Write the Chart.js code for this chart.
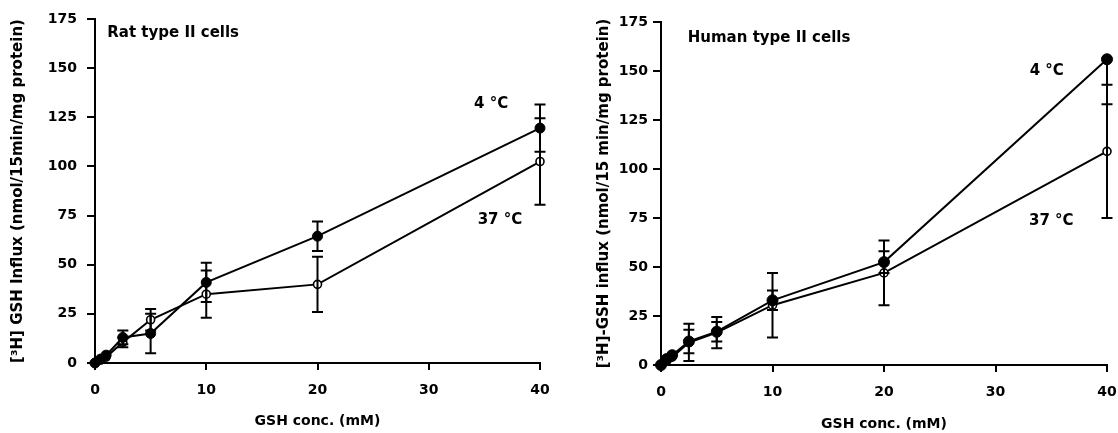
<!DOCTYPE html>
<html>
<head>
<meta charset="utf-8">
<script src="https://cdn.jsdelivr.net/npm/chart.js@4/dist/chart.umd.min.js"></script>
<style>
  html, body { margin: 0; padding: 0; background: #fff; }
  body { width: 1118px; height: 433px; position: relative; overflow: hidden; }
  .panel { position: absolute; top: 0; height: 433px; }
  #p1 { left: 0; width: 560px; }
  #p2 { left: 580px; width: 538px; }
</style>
</head>
<body>
<div class="panel" id="p1"><canvas id="c1"></canvas></div>
<div class="panel" id="p2"><canvas id="c2"></canvas></div>
<script>
// ---- data ----
const conc = [0, 0.5, 1, 2.5, 5, 10, 20, 40];           // GSH conc. (mM)
const xTicks = [0, 10, 20, 30, 40];
const yTicks = [0, 25, 50, 75, 100, 125, 150, 175];

const rat4      = [0, 2, 4, 13, 15, 41, 64.5, 119.5];
const rat4Err   = [0, 0, 0, 3.5, 10, 10, 7.5, 12];
const rat37     = [0, 1.5, 3, 10.5, 22, 35, 40, 102.5];
const rat37Err  = [0, 0, 0, 2.5, 5.5, 12, 14, 22];

const hum4      = [0, 3, 5, 12, 17, 33, 52.5, 156];
const hum4Err   = [0, 0, 0, 6, 5, 5, 5.5, 23];   // lower error
const hum4ErrUp = [0, 0, 0, 6, 5, 5, 5.5, 0];    // upper error (none drawn at 40 mM)
const hum37     = [0, 2, 4, 11.5, 16.5, 30.5, 47, 109];
const hum37Err  = [0, 0, 0, 9.5, 8, 16.5, 16.5, 34];

const xTitle = 'GSH conc. (mM)';
const yTitleRat = '[\u00B3H] GSH Influx (nmol/15min/mg protein)';
const yTitleHum = '[\u00B3H]-GSH influx (nmol/15 min/mg protein)';
const ratTitle = 'Rat type II cells';
const humTitle = 'Human type II cells';
const label4 = '4 \u00B0C';
const label37 = '37 \u00B0C';

// ---- helpers ----
const FONT = 'DejaVu Sans';
const pts = (ys) => conc.map((x, i) => ({ x: x, y: ys[i] }));

const errorBars = {
  id: 'errorBars',
  afterDatasetsDraw(chart) {
    const ctx = chart.ctx;
    const xs = chart.scales.x, ys = chart.scales.y;
    const area = chart.chartArea;
    ctx.save();
    ctx.beginPath();
    ctx.rect(area.left - 10, area.top, area.right - area.left + 20, area.bottom - area.top + 10);
    ctx.clip();
    ctx.strokeStyle = '#000';
    ctx.lineWidth = 2;
    const w = 5.5;
    chart.data.datasets.forEach((ds) => {
      (ds.errors || []).forEach((e, i) => {
        const up = ds.errorsUp ? ds.errorsUp[i] : e;
        if (!e && !up) return;
        const p = ds.data[i];
        const px = xs.getPixelForValue(p.x);
        const y0 = ys.getPixelForValue(p.y);
        ctx.beginPath();
        if (up) {
          const y1 = ys.getPixelForValue(p.y + up);
          ctx.moveTo(px, y0); ctx.lineTo(px, y1);
          ctx.moveTo(px - w, y1); ctx.lineTo(px + w, y1);
        }
        if (e) {
          const y2 = ys.getPixelForValue(p.y - e);
          ctx.moveTo(px, y0); ctx.lineTo(px, y2);
          ctx.moveTo(px - w, y2); ctx.lineTo(px + w, y2);
        }
        ctx.stroke();
      });
    });
    ctx.restore();
  }
};

const textLabels = {
  id: 'textLabels',
  afterDraw(chart, args, opts) {
    const ctx = chart.ctx;
    const xs = chart.scales.x, ys = chart.scales.y;
    ctx.save();
    ctx.fillStyle = '#000';
    ctx.font = 'bold 15px "' + FONT + '"';
    ctx.textBaseline = 'middle';
    (opts.items || []).forEach((it) => {
      ctx.textAlign = it.align || 'center';
      ctx.fillText(it.text, xs.getPixelForValue(it.x), ys.getPixelForValue(it.y));
    });
    ctx.restore();
  }
};

function makeChart(id, cfg) {
  const datasets = [
    { data: pts(cfg.s4), errors: cfg.e4, errorsUp: cfg.e4up, borderColor: '#000', borderWidth: 2,
      pointRadius: cfg.r4, pointBackgroundColor: '#000', pointBorderColor: '#000',
      pointBorderWidth: 1, showLine: true, clip: false },
    { data: pts(cfg.s37), errors: cfg.e37, borderColor: '#000', borderWidth: 2,
      pointRadius: 4, pointBackgroundColor: '#fff', pointBorderColor: '#000',
      pointBorderWidth: 1.6, showLine: true, clip: false }
  ];
  return new Chart(document.getElementById(id), {
    type: 'scatter',
    data: { datasets },
    plugins: [errorBars, textLabels],
    options: {
      responsive: true,
      maintainAspectRatio: false,
      animation: false,
      layout: { autoPadding: false, padding: { left: 0, top: cfg.top, right: cfg.right, bottom: 0 } },
      plugins: {
        legend: { display: false },
        tooltip: { enabled: false },
        textLabels: { items: cfg.labels }
      },
      scales: {
        x: {
          type: 'linear', min: 0, max: 40,
          afterBuildTicks: (s) => { s.ticks = xTicks.map(v => ({ value: v })); },
          afterFit: (s) => { s.height = cfg.xh; s.paddingLeft = 0; s.paddingRight = 0; },
          border: { display: true, color: '#000', width: 2 },
          grid: { display: true, drawOnChartArea: false, drawTicks: true, tickLength: 7, tickColor: '#000', lineWidth: 2 },
          ticks: { color: '#000', padding: 12, font: { family: FONT, size: 14, weight: 'bold' } },
          title: { display: true, text: xTitle, color: '#000', padding: { top: 0, bottom: cfg.xtb },
                   font: { family: FONT, size: 14, weight: 'bold' } }
        },
        y: {
          type: 'linear', min: 0, max: 175,
          afterBuildTicks: (s) => { s.ticks = yTicks.map(v => ({ value: v })); },
          afterFit: (s) => { s.width = cfg.yw; s.paddingTop = 0; s.paddingBottom = 0; },
          border: { display: true, color: '#000', width: 2 },
          grid: { display: true, drawOnChartArea: false, drawTicks: true, tickLength: 8, tickColor: '#000', lineWidth: 2 },
          ticks: { color: '#000', padding: cfg.ypad, font: { family: FONT, size: 14, weight: 'bold' } },
          title: { display: true, text: cfg.yTitle, color: '#000', padding: { top: cfg.ytp, bottom: 0 },
                   font: { family: FONT, size: 15, weight: 'bold' } }
        }
      }
    }
  });
}

makeChart('c1', {
  s4: rat4, e4: rat4Err, e4up: null, s37: rat37, e37: rat37Err, r4: 5,
  top: 19, right: 20, xh: 70, yw: 95, ypad: 10, ytp: 9, xtb: 3,
  yTitle: yTitleRat,
  labels: [
    { text: ratTitle, x: 1.1, y: 167.6, align: 'left' },
    { text: label4, x: 35.6, y: 131.7 },
    { text: label37, x: 36.4, y: 72.7 }
  ]
});

makeChart('c2', {
  s4: hum4, e4: hum4Err, e4up: hum4ErrUp, s37: hum37, e37: hum37Err, r4: 5.5,
  top: 22, right: 11, xh: 68, yw: 81, ypad: 5, ytp: 15, xtb: 0,
  yTitle: yTitleHum,
  labels: [
    { text: humTitle, x: 2.4, y: 167, align: 'left' },
    { text: label4, x: 34.6, y: 150 },
    { text: label37, x: 35, y: 73.2 }
  ]
});
</script>
</body>
</html>
